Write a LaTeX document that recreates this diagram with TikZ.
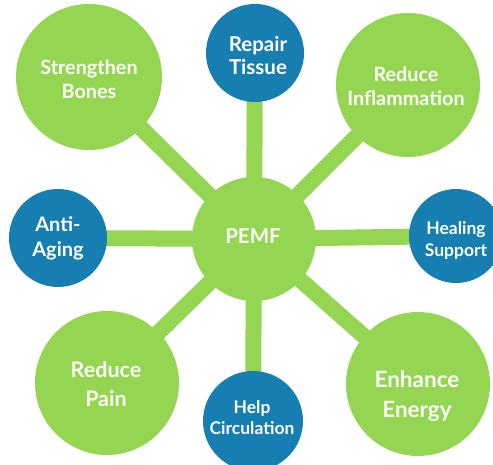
\documentclass[tikz,border=0pt]{standalone}
\usepackage{fontspec}
\setmainfont{Lato}
\usetikzlibrary{backgrounds}
\definecolor{leaf}{RGB}{148,214,82}
\definecolor{sea}{RGB}{22,126,176}
\definecolor{paper}{RGB}{252,253,248}
\newcommand{\fs}[2]{\bfseries\fontsize{#1}{#2}\selectfont}
\begin{document}
\begin{tikzpicture}[x=1pt,y=-1pt,
  disc/.style={circle,inner sep=0pt},
  bigleaf/.style={disc,fill=leaf,minimum size=146pt},
  smallsea/.style={disc,fill=sea,minimum size=98pt},
  caption/.style={inner sep=0pt,align=center,text=paper},
  spoke/.style={draw=leaf,line width=16pt}]
\useasboundingbox (0,0) rectangle (493,465);
\clip (0,0) rectangle (493,465);
% discs
\node[disc,fill=leaf,minimum size=124pt] (centre) at (254,239) {};
\node[bigleaf] (bones) at (89,77) {};
\node[smallsea] (tissue) at (255,53) {};
\node[bigleaf,minimum size=144pt] (inflam) at (408,85) {};
\node[smallsea,minimum size=94pt] (healing) at (456,236) {};
\node[smallsea] (aging) at (58,238) {};
\node[bigleaf,minimum size=144pt] (pain) at (107,383) {};
\node[smallsea,minimum size=100pt] (circ) at (253,421) {};
\node[bigleaf,minimum size=144pt] (energy) at (418,384) {};
% spokes behind the discs
\begin{scope}[on background layer]
\foreach \n in {bones,tissue,inflam,healing,aging,pain,circ,energy}
  \draw[spoke] (centre.center) -- (\n.center);
\end{scope}
% captions
\node[caption,font=\fs{20.5}{24}] (centre-t) at (253,236) {PEMF};
\node[caption,font=\fs{19.8}{24}] (bones-t) at (89,79) {Strengthen\\Bones};
\node[caption,font=\fs{20.5}{23}] (tissue-t) at (258,55) {Repair\\Tissue};
\node[caption,font=\fs{19.8}{24}] (inflam-t) at (406,86) {Reduce\\Inflammation};
\node[caption,font=\fs{17.5}{22}] (healing-t) at (456,240) {Healing\\Support};
\node[caption,font=\fs{20}{25}] (aging-t) at (58,238) {Anti-\\Aging};
\node[caption,font=\fs{21.5}{29}] (pain-t) at (106,384) {Reduce\\Pain};
\node[caption,font=\fs{17.5}{21}] (circ-t) at (252,418) {Help\\Circulation};
\node[caption,font=\fs{22.5}{30}] (energy-t) at (417,396) {Enhance\\Energy};
\end{tikzpicture}
\end{document}
